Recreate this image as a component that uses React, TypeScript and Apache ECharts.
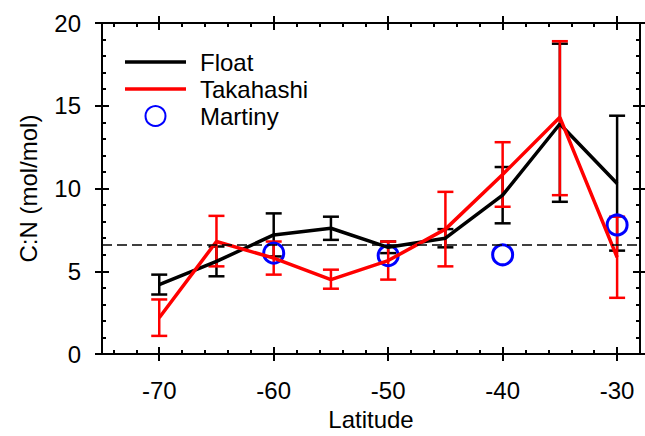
import React, { useEffect, useRef } from "react";
import * as echarts from "echarts";

const latitudes = [-70, -65, -60, -55, -50, -45, -40, -35, -30];
const floatMean = [4.2, 5.6, 7.2, 7.6, 6.45, 7.0, 9.6, 13.9, 10.3];
const floatLow = [3.6, 4.7, 5.9, 6.9, 6.1, 6.45, 7.9, 9.2, 6.25];
const floatHigh = [4.8, 6.5, 8.5, 8.3, 6.8, 7.55, 11.3, 18.75, 14.4];
const takaMean = [2.2, 6.8, 5.8, 4.5, 5.65, 7.55, 10.85, 14.3, 5.85];
const takaLow = [1.1, 5.3, 4.8, 3.95, 4.5, 5.3, 8.9, 9.6, 3.4];
const takaHigh = [3.3, 8.35, 6.8, 5.1, 6.8, 9.8, 12.8, 18.9, 8.3];
const martinyLat = [-60, -50, -40, -30];
const martinyVal = [6.1, 5.95, 6.0, 7.8];
const refLine = 6.6;
const xMajor = [-70, -60, -50, -40, -30];
const xMinor = [-74, -72, -68, -66, -64, -62, -58, -56, -54, -52, -48, -46, -44, -42, -38, -36, -34, -32];

const FONT = "'Liberation Sans', Arial, sans-serif";
const LINE_ICON = "path://M0,0H61V3.5H0Z";

function errorSeries(name: string, low: number[], high: number[], color: string) {
  return {
    type: "custom",
    name: name + "_err",
    xAxisIndex: 0,
    yAxisIndex: 0,
    data: latitudes.map((x, i) => [x, low[i], high[i]]),
    encode: { x: 0, y: [1, 2] },
    silent: true,
    renderItem: (params: any, api: any) => {
      const x = api.value(0);
      const pLo = api.coord([x, api.value(1)]);
      const pHi = api.coord([x, api.value(2)]);
      const hw = 8;
      const st = { stroke: color, lineWidth: 2.5 };
      return {
        type: "group",
        children: [
          { type: "line", shape: { x1: pLo[0], y1: pLo[1], x2: pHi[0], y2: pHi[1] }, style: st },
          { type: "line", shape: { x1: pLo[0] - hw, y1: pLo[1], x2: pLo[0] + hw, y2: pLo[1] }, style: st },
          { type: "line", shape: { x1: pHi[0] - hw, y1: pHi[1], x2: pHi[0] + hw, y2: pHi[1] }, style: st },
        ],
      };
    },
  };
}

export default function App() {
  const ref = useRef<HTMLDivElement>(null);
  useEffect(() => {
    if (!ref.current) return;
    const chart = echarts.init(ref.current, undefined, { renderer: "svg" });
    const axisLineStyle = { color: "#000", width: 2 };
    const xBase = (position: string, extra: any) => ({
      type: "value",
      position,
      min: -75,
      max: -28,
      gridIndex: 0,
      splitLine: { show: false },
      axisLine: { show: false, onZero: false, lineStyle: axisLineStyle },
      axisLabel: { show: false },
      ...extra,
    });
    const yBase = (position: string, extra: any) => ({
      type: "value",
      position,
      min: 0,
      max: 20,
      interval: 5,
      gridIndex: 0,
      splitLine: { show: false },
      axisLine: { show: false, onZero: false, lineStyle: axisLineStyle },
      axisLabel: { show: false },
      ...extra,
    });
    const option: any = {
      animation: false,
      backgroundColor: "#fff",
      textStyle: { fontFamily: FONT },
      grid: { left: 102, right: 5, top: 23, bottom: 78, containLabel: false },
      legend: {
        orient: "vertical",
        left: 125,
        top: 50,
        padding: 0,
        itemWidth: 61,
        itemHeight: 20,
        itemGap: 3,
        selectedMode: false,
        textStyle: { fontSize: 24, color: "#000", fontFamily: FONT, padding: [0, 0, 0, 9], lineHeight: 24 },
        data: [
          { name: "Float", icon: LINE_ICON },
          { name: "Takahashi", icon: LINE_ICON },
          { name: "Martiny" },
        ],
      },
      xAxis: [
        xBase("bottom", {
          axisLine: { show: true, onZero: false, lineStyle: axisLineStyle },
          axisTick: { show: true, inside: false, length: 7, customValues: xMajor, lineStyle: { color: "#000", width: 2 } },
          axisLabel: { show: true, customValues: xMajor, fontSize: 24, color: "#000", margin: 24, fontFamily: FONT },
          name: "Latitude",
          nameLocation: "middle",
          nameGap: 52,
          nameTextStyle: { fontSize: 24, color: "#000", fontFamily: FONT },
        }),
        xBase("bottom", {
          axisTick: { show: true, inside: true, length: 7, customValues: xMajor, lineStyle: { color: "#000", width: 2 } },
        }),
        xBase("bottom", {
          axisTick: { show: true, inside: true, length: 4, customValues: xMinor, lineStyle: { color: "#000", width: 2 } },
        }),
        xBase("top", {
          axisLine: { show: true, onZero: false, lineStyle: axisLineStyle },
          axisTick: { show: true, inside: false, length: 7, customValues: xMajor, lineStyle: { color: "#000", width: 2 } },
        }),
        xBase("top", {
          axisTick: { show: true, inside: true, length: 7, customValues: xMajor, lineStyle: { color: "#000", width: 2 } },
        }),
        xBase("top", {
          axisTick: { show: true, inside: true, length: 4, customValues: xMinor, lineStyle: { color: "#000", width: 2 } },
        }),
      ],
      yAxis: [
        yBase("left", {
          axisLine: { show: true, onZero: false, lineStyle: axisLineStyle },
          axisTick: { show: true, inside: false, length: 7, lineStyle: { color: "#000", width: 2 } },
          axisLabel: { show: true, fontSize: 24, color: "#000", margin: 21, fontFamily: FONT },
          name: "C:N (mol/mol)",
          nameLocation: "middle",
          nameGap: 62,
          nameTextStyle: { fontSize: 24, color: "#000", fontFamily: FONT },
        }),
        yBase("left", {
          axisTick: { show: true, inside: true, length: 7, lineStyle: { color: "#000", width: 2 } },
          minorTick: { show: true, splitNumber: 5, length: 4, lineStyle: { color: "#000", width: 2 } },
        }),
        yBase("right", {
          axisLine: { show: true, onZero: false, lineStyle: axisLineStyle },
          axisTick: { show: true, inside: false, length: 7, lineStyle: { color: "#000", width: 2 } },
        }),
        yBase("right", {
          axisTick: { show: true, inside: true, length: 7, lineStyle: { color: "#000", width: 2 } },
          minorTick: { show: true, splitNumber: 5, length: 4, lineStyle: { color: "#000", width: 2 } },
        }),
      ],
      series: [
        errorSeries("Float", floatLow, floatHigh, "#000"),
        {
          type: "line",
          name: "Float",
          xAxisIndex: 0,
          yAxisIndex: 0,
          data: latitudes.map((x, i) => [x, floatMean[i]]),
          symbol: "none",
          lineStyle: { color: "#000", width: 3.5 },
          itemStyle: { color: "#000" },
          markLine: {
            silent: true,
            symbol: ["none", "none"],
            label: { show: false },
            lineStyle: { color: "#000", type: [10, 5], width: 1.5 },
            data: [{ yAxis: refLine }],
          },
        },
        errorSeries("Takahashi", takaLow, takaHigh, "#ff0000"),
        {
          type: "line",
          name: "Takahashi",
          xAxisIndex: 0,
          yAxisIndex: 0,
          data: latitudes.map((x, i) => [x, takaMean[i]]),
          symbol: "none",
          lineStyle: { color: "#ff0000", width: 3.5 },
          itemStyle: { color: "#ff0000" },
        },
        {
          type: "scatter",
          name: "Martiny",
          xAxisIndex: 0,
          yAxisIndex: 0,
          data: martinyLat.map((x, i) => [x, martinyVal[i]]),
          symbol: "circle",
          symbolSize: 20,
          itemStyle: { color: "rgba(0,0,0,0)", borderColor: "#0000ff", borderWidth: 3, opacity: 1 },
        },
      ],
    };
    chart.setOption(option);
    return () => chart.dispose();
  }, []);
  return (
    <div
      ref={ref}
      style={{ position: "fixed", left: 0, top: 0, width: 645, height: 436, background: "#fff" }}
    />
  );
}
